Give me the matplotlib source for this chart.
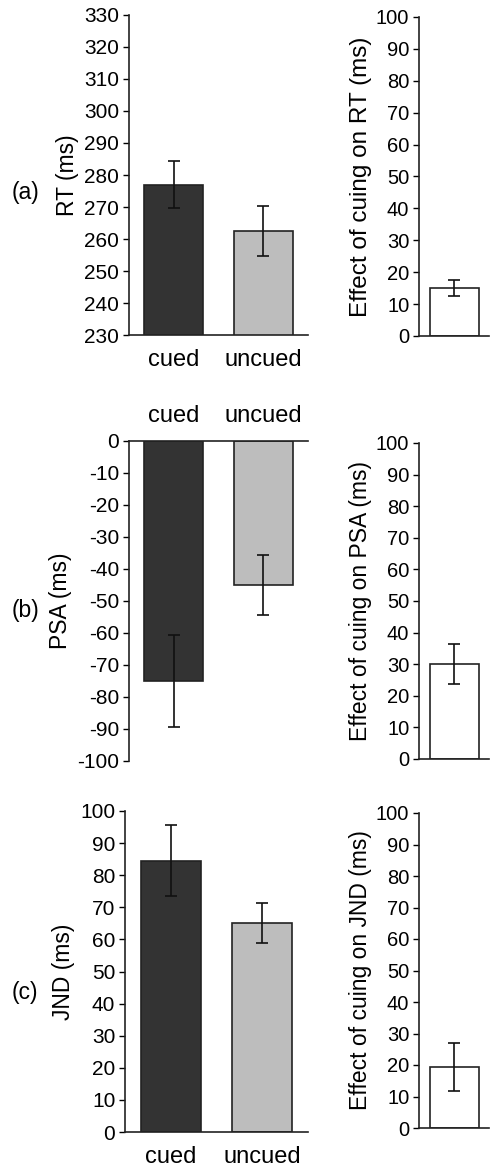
import matplotlib
matplotlib.use('Agg')
import matplotlib.pyplot as plt

plt.rcParams['font.family'] = ['Liberation Sans', 'DejaVu Sans']
plt.rcParams['axes.unicode_minus'] = False

conditions = ['cued', 'uncued']

rt_means = [277, 262.5]
rt_errs = [7.3, 7.8]
rt_effect = [15]
rt_effect_err = [2.4]

psa_means = [-75, -45]
psa_errs = [14.4, 9.5]
psa_effect = [30]
psa_effect_err = [6.4]

jnd_means = [84.5, 65]
jnd_errs = [11, 6.2]
jnd_effect = [19.3]
jnd_effect_err = [7.6]

bar_colors = ['#333333', '#bdbdbd']
W, H = 490, 1171


def style_axis(ax, top=False, tick_size=15):
    ax.spines['right'].set_visible(False)
    if top:
        ax.spines['bottom'].set_visible(False)
        ax.xaxis.tick_top()
    else:
        ax.spines['top'].set_visible(False)
    for s in ['left', 'bottom', 'top']:
        ax.spines[s].set_linewidth(1.2)
        ax.spines[s].set_color('#222222')
    ax.tick_params(axis='y', direction='out', length=4, width=1.0, labelsize=tick_size, pad=3)
    ax.tick_params(axis='x', length=0, labelsize=17, pad=10)


def left_panel(rect, means, errs, ylim, ticks, ylabel, top=False):
    ax = fig.add_axes(rect)
    ax.bar(range(2), means, width=0.66, color=bar_colors, edgecolor='#222222', linewidth=1.2,
           yerr=errs, error_kw=dict(ecolor='#111111', elinewidth=1.2, capsize=4, capthick=1.2))
    ax.set_xlim(-0.5, 1.5)
    ax.set_ylim(*ylim)
    ax.set_yticks(ticks)
    ax.set_xticks(range(2))
    ax.set_xticklabels(conditions)
    ax.set_ylabel(ylabel, fontsize=16.5, labelpad=4)
    style_axis(ax, top)
    return ax


def right_panel(rect, value, err, ylabel, label_size=16.5):
    ax = fig.add_axes(rect)
    ax.bar([0], value, width=0.7, color='white', edgecolor='#222222', linewidth=1.2,
           yerr=err, error_kw=dict(ecolor='#111111', elinewidth=1.2, capsize=4, capthick=1.2))
    ax.set_xlim(-0.5, 0.5)
    ax.set_ylim(0, 100)
    ax.set_yticks(range(0, 101, 10))
    ax.set_xticks([])
    ax.set_ylabel(ylabel, fontsize=label_size, labelpad=3)
    style_axis(ax, tick_size=14.5)
    return ax


def rect(x0, x1, ytop, ybot):
    return [x0 / W, 1 - ybot / H, (x1 - x0) / W, (ybot - ytop) / H]


fig = plt.figure(figsize=(4.9, 11.71), dpi=100)

# (a)
left_panel(rect(129, 308, 15, 335), rt_means, rt_errs, (230, 330), range(230, 331, 10), 'RT (ms)')
right_panel(rect(419, 489, 17, 336), rt_effect, rt_effect_err, 'Effect of cuing on RT (ms)', 17.5)

# (b)
left_panel(rect(129, 308, 441, 761), psa_means, psa_errs, (-100, 0), range(-100, 1, 10), 'PSA (ms)', top=True)
right_panel(rect(419, 489, 443, 759), psa_effect, psa_effect_err, 'Effect of cuing on PSA (ms)')

# (c)
left_panel(rect(125, 308, 811, 1132), jnd_means, jnd_errs, (0, 100), range(0, 101, 10), 'JND (ms)')
right_panel(rect(419, 489, 813, 1128), jnd_effect, jnd_effect_err, 'Effect of cuing on JND (ms)')

for lab, yc in [('(a)', 193), ('(b)', 610), ('(c)', 993)]:
    fig.text(25 / W, 1 - yc / H, lab, fontsize=16.5, ha='center', va='center')

fig.savefig('out.png', dpi=100)
